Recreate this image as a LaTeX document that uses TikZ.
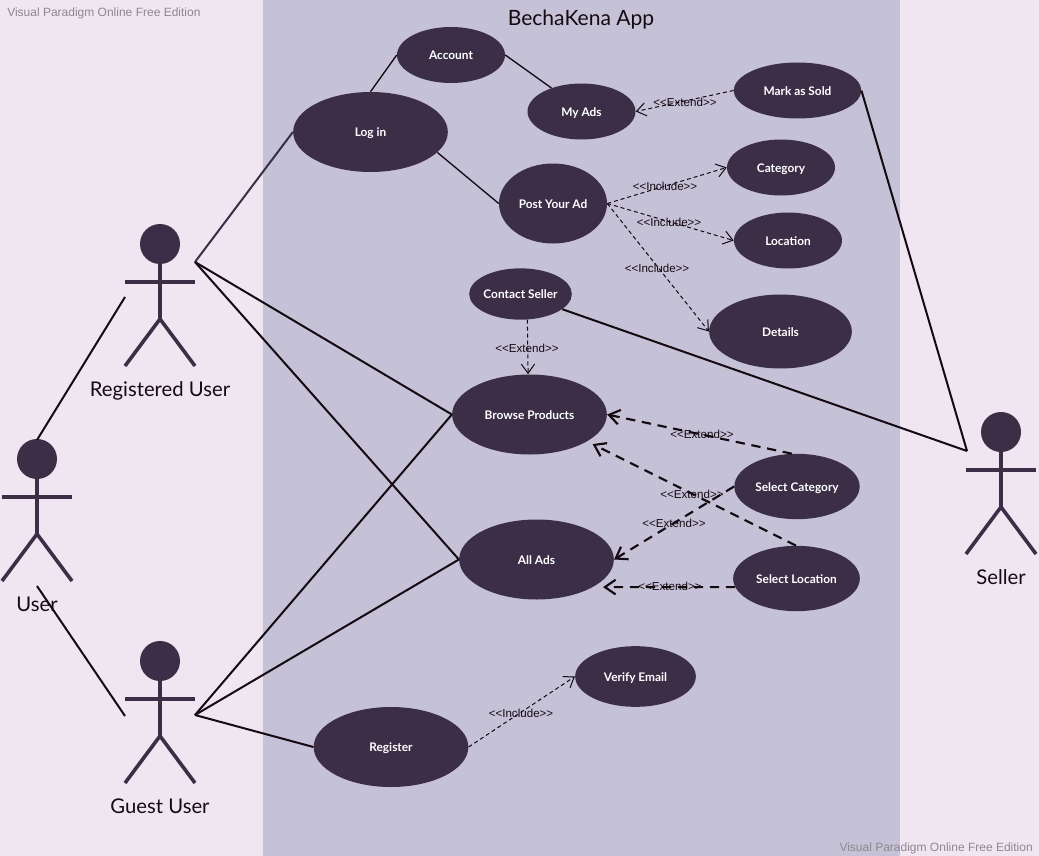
\documentclass[tikz,border=0pt]{standalone}
\usepackage{fontspec}
\setmainfont{Lato}
\newfontfamily\wmfont{Liberation Sans}
\usetikzlibrary{shapes.geometric,arrows.meta}
\definecolor{pagebg}{HTML}{F0E6F2}
\definecolor{panelbg}{HTML}{C5C1D7}
\definecolor{dark}{HTML}{3C2E47}
\definecolor{ink}{HTML}{160A12}
\definecolor{wm}{HTML}{8C8890}
\tikzset{
  x=0.75pt,y=-0.75pt,
  usecase/.style={ellipse,fill=dark,text=white,inner sep=0pt,text height=7pt,text depth=0pt,font=\fontsize{8.9}{11}\selectfont\bfseries},
  actorlabel/.style={text=ink,inner sep=0pt,font=\fontsize{15.2}{18}\selectfont},
  limb/.style={draw=dark,line width=2.7pt},
  head/.style={circle,fill=dark,minimum size=30pt,inner sep=0pt},
  assoc/.style={draw=ink,line width=1.5pt},
  thinassoc/.style={draw=ink,line width=1pt},
  dep/.style={draw=ink,line width=0.75pt,dash pattern=on 3pt off 2.2pt,-{Straight Barb[length=7pt,width=10pt,line width=0.75pt]}},
  depbold/.style={draw=ink,line width=1.6pt,dash pattern=on 7pt off 5pt,-{Straight Barb[length=8pt,width=11pt,line width=1.6pt]}},
  stereo/.style={text=ink,inner sep=0pt,font=\wmfont\fontsize{8.7}{10}\selectfont},
  watermark/.style={text=wm,inner sep=0pt,font=\wmfont\fontsize{9}{11}\selectfont},
}
\newcommand{\nw}[1]{\makebox[0pt]{#1}}
\begin{document}
\begin{tikzpicture}
\fill[pagebg] (0,0) rectangle (1039,856);
\fill[panelbg] (263,0) rectangle (900,856);
\useasboundingbox (0,0) rectangle (1039,856);

\node[watermark,anchor=west] (wma) at (7,13) {Visual Paradigm Online Free Edition};
\node[watermark,anchor=east] (wmb) at (1033,848) {Visual Paradigm Online Free Edition};
\node[text=ink,inner sep=0pt,font=\fontsize{15.8}{20}\selectfont] (title) at (581,20) {BechaKena App};

% actors
\node[head] (ruhead) at (160,244) {};
\draw[limb] (160,244) -- (160,319);
\draw[limb] (125,282) -- (195,282);
\draw[limb] (125,366) -- (160,319) -- (195,366);
\node[actorlabel] (rulabel) at (160,391) {Registered User};

\node[head] (uhead) at (37,459) {};
\draw[limb] (37,459) -- (37,534);
\draw[limb] (2,497) -- (72,497);
\draw[limb] (2,581) -- (37,534) -- (72,581);
\node[actorlabel] (ulabel) at (37,604) {User};

\node[head] (ghead) at (160,661) {};
\draw[limb] (160,661) -- (160,736);
\draw[limb] (125,699) -- (195,699);
\draw[limb] (125,783) -- (160,736) -- (195,783);
\node[actorlabel] (glabel) at (160,806) {Guest User};

\node[head] (shead) at (1001,432) {};
\draw[limb] (1001,432) -- (1001,507);
\draw[limb] (966,470) -- (1036,470);
\draw[limb] (966,554) -- (1001,507) -- (1036,554);
\node[actorlabel] (slabel) at (1001,577) {Seller};

\coordinate (ruright) at (195,262);
\coordinate (ruleft) at (125,297);
\coordinate (gright) at (195,715);
\coordinate (gleft) at (125,716);
\coordinate (utop) at (37,440);
\coordinate (ubottom) at (37,586);
\coordinate (sleft) at (967,451);

% use cases
\node[usecase,minimum width=81pt,minimum height=42pt] (account) at (451,55) {\nw{Account}};
\node[usecase,minimum width=81pt,minimum height=42pt] (myads) at (581.5,111.5) {\nw{My Ads}};
\node[usecase,minimum width=95.5pt,minimum height=42pt] (sold) at (797.5,90.5) {\nw{Mark as Sold}};
\node[usecase,minimum width=116pt,minimum height=60pt] (login) at (370.5,132) {\nw{Log in}};
\node[usecase,minimum width=81pt,minimum height=60pt] (post) at (553,203.5) {\nw{Post Your Ad}};
\node[usecase,minimum width=81pt,minimum height=42pt] (category) at (781,167.5) {\nw{Category}};
\node[usecase,minimum width=81pt,minimum height=42pt] (location) at (788,240.5) {\nw{Location}};
\node[usecase,minimum width=77pt,minimum height=38.5pt] (contact) at (520.5,294) {\nw{Contact Seller}};
\node[usecase,minimum width=107pt,minimum height=55.5pt] (details) at (780.5,331.5) {\nw{Details}};
\node[usecase,minimum width=116pt,minimum height=60pt] (browse) at (529.5,414.5) {\nw{Browse Products}};
\node[usecase,minimum width=94pt,minimum height=49pt] (selcat) at (797,486.5) {\nw{Select Category}};
\node[usecase,minimum width=95pt,minimum height=49pt] (selloc) at (796.5,578.5) {\nw{Select Location}};
\node[usecase,minimum width=116pt,minimum height=60pt] (allads) at (536.5,559.5) {\nw{All Ads}};
\node[usecase,minimum width=90.5pt,minimum height=45.5pt] (verify) at (635.5,676.5) {\nw{Verify Email}};
\node[usecase,minimum width=116pt,minimum height=60pt] (register) at (391,747) {\nw{Register}};

% associations
\draw[assoc] (utop) -- (ruleft);
\draw[assoc] (ubottom) -- (gleft);
\draw[assoc,draw=dark] (ruright) -- (login.west);
\draw[assoc] (ruright) -- (browse.west);
\draw[assoc] (ruright) -- (allads.west);
\draw[assoc] (gright) -- (browse.west);
\draw[assoc] (gright) -- (allads.west);
\draw[assoc] (gright) -- (register.west);
\draw[assoc] (sleft) -- (sold.east);
\draw[assoc] (sleft) -- (contact.-20);
\draw[thinassoc] (login.north) -- (account.west);
\draw[thinassoc] (account.east) -- (myads.142);
\draw[thinassoc] (login.-17) -- (post.west);

% dependencies
\draw[dep] (sold.west) -- (myads.east);
\draw[dep] (post.east) -- (category.west);
\draw[dep] (post.east) -- (location.west);
\draw[dep] (post.east) -- (details.west);
\draw[dep] (contact.-75) -- (browse.92);
\draw[dep] (register.east) -- (verify.west);
\draw[depbold] (selcat.99) -- (browse.east);
\draw[depbold,shorten >=4.5pt] (selloc.91) -- (browse.-25.3);
\draw[depbold] (selcat.west) -- (allads.east);
\draw[depbold,shorten >=7.5pt] (selloc.188) -- (allads.-26);

% stereotype labels
\node[stereo] (s1) at (685,102) {<{}<Extend>{}>};
\node[stereo] (s2) at (665,186) {<{}<Include>{}>};
\node[stereo] (s3) at (669,222) {<{}<Include>{}>};
\node[stereo] (s4) at (657,268) {<{}<Include>{}>};
\node[stereo] (s5) at (527,348) {<{}<Extend>{}>};
\node[stereo] (s6) at (702,434) {<{}<Extend>{}>};
\node[stereo] (s7) at (692,494) {<{}<Extend>{}>};
\node[stereo] (s8) at (674,523) {<{}<Extend>{}>};
\node[stereo] (s9) at (670,586) {<{}<Extend>{}>};
\node[stereo] (s10) at (521,713) {<{}<Include>{}>};
\end{tikzpicture}
\end{document}
